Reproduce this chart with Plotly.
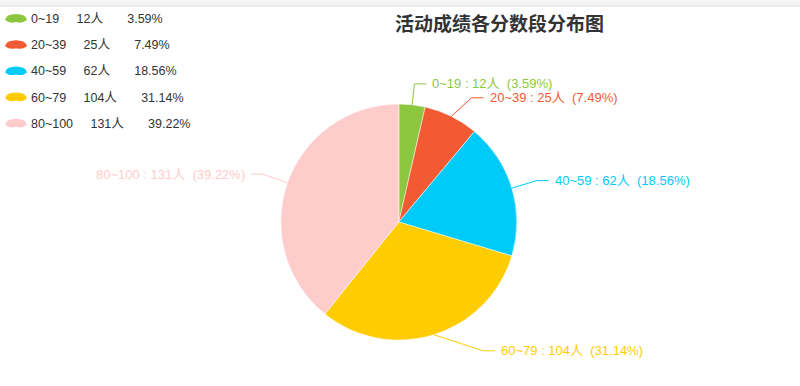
import math
import plotly.graph_objects as go

# ---- data ----
categories = ["0~19", "20~39", "40~59", "60~79", "80~100"]
counts = [12, 25, 62, 104, 131]
percents = ["3.59", "7.49", "18.56", "31.14", "39.22"]
colors = ["#8dc63f", "#f15a32", "#00cbf8", "#ffcc00", "#ffcccc"]
title_text = "活动成绩各分数段分布图"

# ---- layout / styling (not data) ----
W, H = 800, 386
CX, CY, R = 398.8, 222.0, 118.0  # pie centre / radius in px
# leader-line elbow tweaks per label: (angle offset deg, first segment length px)
elbow_tweak = [(0, 21), (4, 26), (0, 26), (-16, 36), (0, 26)]
L2, GAP = 12, 4

FONT = "Liberation Sans, Arial, Noto Sans CJK SC, sans-serif"

def px(x):
    return x / W

def py(y):
    return 1 - y / H

fig = go.Figure()
fig.add_trace(go.Pie(
    labels=categories,
    values=counts,
    sort=False,
    direction="clockwise",
    rotation=0,
    marker=dict(colors=colors, line=dict(color="#ffffff", width=0.5)),
    textinfo="none",
    hoverinfo="label+value+percent",
    showlegend=False,
    domain=dict(x=[px(CX - R), px(CX + R)], y=[py(CY + R), py(CY - R)]),
))

shapes = []
annotations = []

# top strip
shapes.append(dict(type="rect", xref="paper", yref="paper", x0=0, x1=1,
                   y0=py(6), y1=1, fillcolor="#f4f4f4", line=dict(width=0), layer="below"))
shapes.append(dict(type="line", xref="paper", yref="paper", x0=0, x1=1,
                   y0=py(6), y1=py(6), line=dict(color="#e2e2e2", width=1)))

# title
annotations.append(dict(text="<b>" + title_text + "</b>", x=px(499), y=py(23),
                        xref="paper", yref="paper", showarrow=False,
                        xanchor="center", yanchor="middle",
                        font=dict(family="Noto Sans CJK SC, sans-serif", size=19, color="#333333")))

# legend
nb = "\u00a0"
for i, (c, n, p, col) in enumerate(zip(categories, counts, percents, colors)):
    yc = 19 + i * 26.2
    shapes.append(dict(type="path", xref="paper", yref="paper",
                       path=(f"M {px(5)},{py(yc+1)} Q {px(6)},{py(yc-5)} {px(16)},{py(yc-5)} "
                             f"Q {px(26)},{py(yc-5)} {px(27)},{py(yc+1)} "
                             f"Q {px(22)},{py(yc+5)} {px(16)},{py(yc+3)} "
                             f"Q {px(10)},{py(yc+5)} {px(5)},{py(yc+1)} Z"),
                       fillcolor=col, line=dict(width=0)))
    txt = f"{c}{nb*5}{n}人{nb*7}{p}%"
    annotations.append(dict(text=txt, x=px(29), y=py(yc), xref="paper", yref="paper",
                            showarrow=False, xanchor="left", yanchor="middle",
                            font=dict(family=FONT, size=12.5, color="#333333")))

# pie labels with leader lines
total = sum(counts)
cum = 0
for (c, n, p, col), (dang, L1) in zip(zip(categories, counts, percents, colors), elbow_tweak):
    mid = (cum + n / 2) / total * 2 * math.pi
    cum += n
    sx, sy = math.sin(mid), -math.cos(mid)
    ax, ay = CX + R * sx, CY + R * sy
    ang2 = mid + math.radians(dang)
    bx, by = CX + (R + L1) * math.sin(ang2), CY - (R + L1) * math.cos(ang2)
    side = 1 if sx >= 0 else -1
    cx2 = bx + side * L2
    shapes.append(dict(type="path", xref="paper", yref="paper",
                       path=f"M {px(ax)},{py(ay)} L {px(bx)},{py(by)} L {px(cx2)},{py(by)}",
                       line=dict(color=col, width=1)))
    annotations.append(dict(text=f"{c} : {n}人  ({p}%)", x=px(cx2 + side * GAP), y=py(by),
                            xref="paper", yref="paper", showarrow=False,
                            xanchor="left" if side > 0 else "right", yanchor="middle",
                            font=dict(family=FONT, size=13, color=col)))

fig.update_layout(
    width=W, height=H,
    margin=dict(l=0, r=0, t=0, b=0),
    paper_bgcolor="#ffffff", plot_bgcolor="#ffffff",
    shapes=shapes, annotations=annotations,
    showlegend=False,
)
fig.write_html("out.html", config={"displayModeBar": False},
               post_script="document.body.style.margin='0';document.body.style.overflow='hidden';")
